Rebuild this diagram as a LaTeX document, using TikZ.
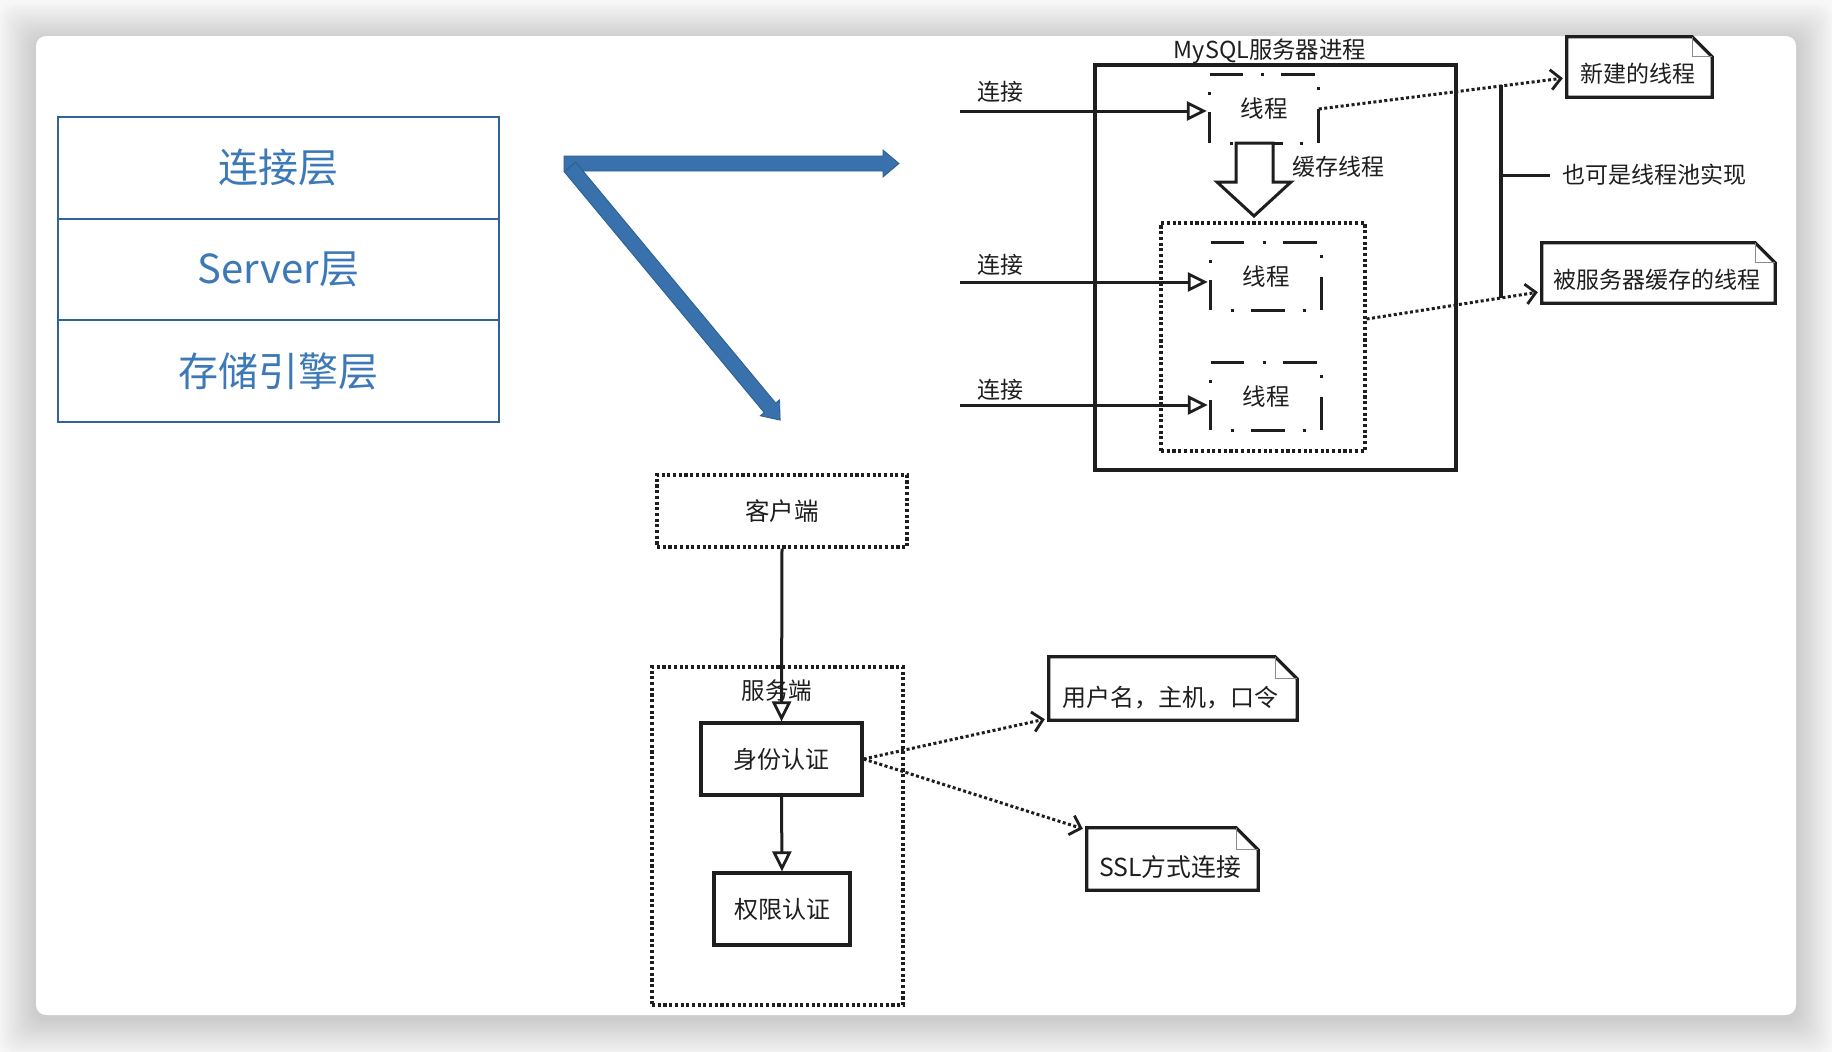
\documentclass[tikz,border=0pt]{standalone}
\usepackage{fontspec}
\newfontfamily\cjk{Noto Sans CJK SC}
\usetikzlibrary{arrows.meta,calc}
\definecolor{pagebg}{HTML}{F7F7F7}
\definecolor{layertext}{HTML}{3C79B6}
\definecolor{layerline}{HTML}{31639A}
\definecolor{bluefill}{HTML}{3871AB}
\definecolor{blueedge}{HTML}{2C5E92}
\definecolor{ink}{HTML}{1E1E1E}
\definecolor{foldgray}{HTML}{8C8C8C}

\newcommand{\thframe}[1]{%
  \draw[thdash] (#1.north west) -- ++(33,0);
  \draw[thdash] ($(#1.north west)!0.5!(#1.north east)+(-3,0)$) -- ++(3,0);
  \draw[thdash] ($(#1.north east)+(-38,0)$) -- ++(34,0);
  \draw[thdash] ($(#1.north east)+(0,12.5)$) -- ++(0,3);
  \draw[thdash] ($(#1.north east)+(0,34)$) -- (#1.south east);
  \draw[thdash] ($(#1.south west)+(20.5,0)$) -- ++(3,0);
  \draw[thdash] ($(#1.south west)!0.5!(#1.south east)+(-15,0)$) -- ++(34,0);
  \draw[thdash] ($(#1.south east)+(-18.5,0)$) -- ++(3,0);
  \draw[thdash] ($(#1.north west)+(0,17.5)$) -- ++(0,3);
  \draw[thdash] ($(#1.north west)+(0,37)$) -- (#1.south west);
}
\newcommand{\notefold}[2]{%
  \draw[noteline] (#1.north west) -- ($(#1.north east)+(-#2,0)$) -- ($(#1.north east)+(0,#2)$) -- (#1.south east) -- (#1.south west) -- cycle;
  \draw[foldgray, line width=1.3pt] ($(#1.north east)+(-#2,0)$) -- ($(#1.north east)+(-#2,#2)$) -- ($(#1.north east)+(0,#2)$);
}

\begin{document}
\begin{tikzpicture}[x=1pt,y=-1pt,
  txt/.style={inner sep=0pt, text=ink, font=\cjk\fontsize{23}{27}\selectfont},
  bigtxt/.style={inner sep=0pt, text=ink, font=\cjk\fontsize{24}{28}\selectfont},
  layer/.style={draw=layerline, line width=2.2pt, minimum width=441pt, minimum height=101.7pt, inner sep=0pt, text=layertext, font=\cjk\fontsize{40}{44}\selectfont},
  solidbox/.style={draw=ink, line width=3.2pt, inner sep=0pt, text=ink, font=\cjk\fontsize{24}{28}\selectfont},
  dotbox/.style={draw=ink, line width=3.1pt, dash pattern=on 3.1pt off 2.6pt, inner sep=0pt},
  thread/.style={inner sep=0pt, text=ink, font=\cjk\fontsize{23.5}{27}\selectfont},
  thdash/.style={draw=ink, line width=3.2pt},
  notebox/.style={inner sep=0pt},
  noteline/.style={draw=ink, line width=3.2pt, line join=miter, fill=white},
  hollow/.style={draw=ink, line width=3pt, -{Triangle[open, length=20pt, width=19pt, line width=2.8pt]}},
  dotarrow/.style={draw=ink, line width=3pt, dash pattern=on 3pt off 2.5pt, -{Straight Barb[length=10pt, width=20pt, line width=2.8pt]}},
  bluearrow/.style={fill=bluefill, draw=blueedge, line width=0.8pt, line join=miter},
]
\useasboundingbox (0,0) rectangle (1832,1052);
\fill[pagebg] (0,0) rectangle (1832,1052);
\foreach \i in {1,...,14} {
  \fill[black, opacity=0.012, rounded corners=14pt] (36-\i*2.6, 36-\i*2.6+4) rectangle (1796+\i*2.6, 1015+\i*2.6+4);
}
\fill[white, rounded corners=10pt] (36,36) rectangle (1796,1015);

% layers
\node[layer] (lay1) at (278.5,167.8) {连接层};
\node[layer] (lay2) at (278.5,269.5) {Server层};
\node[layer] (lay3) at (278.5,371.2) {存储引擎层};

% blue arrows
\filldraw[bluearrow] (564,156) -- (883,156) -- (883,150) -- (899,163.5) -- (883,177) -- (883,171) -- (564,171) -- cycle;
\begin{scope}[shift={(570,167)}, rotate=-50.3]
  \filldraw[bluearrow] (0,-7.5) -- (313,-7.5) -- (313,-12.5) -- (329,0) -- (313,12.5) -- (313,7.5) -- (0,7.5) -- cycle;
\end{scope}

% MySQL server process
\node[txt, font=\cjk\fontsize{23.4}{27}\selectfont] (mysqltitle) at (1270,51) {MySQL服务器进程};
\node[draw=ink, line width=3.2pt, minimum width=361pt, minimum height=405pt, inner sep=0pt] (mysql) at (1275.5,267.5) {};
\node[dotbox, minimum width=204pt, minimum height=228pt] (cache) at (1263,337) {};
\node[thread, minimum width=108.6pt, minimum height=68pt] (th1) at (1264.3,109) {线程};
\node[thread, minimum width=110pt, minimum height=67pt] (th2) at (1266,276.5) {线程};
\node[thread, minimum width=110pt, minimum height=67pt] (th3) at (1266,396.5) {线程};
\thframe{th1}
\thframe{th2}
\thframe{th3}

\coordinate (c1) at (960,111);
\coordinate (c2) at (960,282);
\coordinate (c3) at (960,405);
\node[txt] (l1) at (1000,92) {连接};
\node[txt] (l2) at (1000,265) {连接};
\node[txt] (l3) at (1000,390) {连接};
\draw[hollow] (c1) -- ([xshift=-3pt]c1 -| th1.west);
\draw[hollow] (c2) -- ([xshift=-3pt]c2 -| th2.west);
\draw[hollow] (c3) -- ([xshift=-3pt]c3 -| th3.west);

% cache arrow
\filldraw[fill=white, draw=ink, line width=3pt, line join=miter] (1236,143) -- (1273,143) -- (1273,182) -- (1291,182) -- (1254,216) -- (1217,182) -- (1236,182) -- cycle;
\node[txt, anchor=west] (cachelbl) at (1292,167) {缓存线程};

% notes right
\node[notebox, minimum width=145pt, minimum height=60pt] (note1) at (1639.5,67) {};
\notefold{note1}{20}
\node[txt] (note1t) at (1638,74) {新建的线程};
\node[notebox, minimum width=233pt, minimum height=60pt] (note2) at (1658.5,273) {};
\notefold{note2}{20}
\node[txt] (note2t) at (1657,280) {被服务器缓存的线程};

\draw[dotarrow] (th1.east) -- ($(note1.south west)+(-4,-19)$);
\draw[dotarrow] ($(cache.east)+(0,-18)$) -- ($(note2.south west)+(-4,-11)$);

% bracket
\coordinate (bt) at (1501,85);
\coordinate (bb) at (1501,298);
\coordinate (bm) at (1501,175);
\draw[ink, line width=3.2pt] (bt) -- (bb);
\node[txt, anchor=west] (pool) at (1562,175) {也可是线程池实现};
\draw[ink, line width=3pt] (bm) -- ([xshift=-12pt]pool.west);

% client / server
\node[dotbox, minimum width=250pt, minimum height=72pt, text=ink, font=\cjk\fontsize{24.5}{28}\selectfont] (client) at (782,511) {客户端};
\node[dotbox, minimum width=251pt, minimum height=338pt] (server) at (777.5,836) {};
\node[txt, font=\cjk\fontsize{23.5}{27}\selectfont] (serverlbl) at (777,691) {服务端};
\node[solidbox, minimum width=161pt, minimum height=72pt] (auth) at (781.5,759) {身份认证};
\node[solidbox, minimum width=136pt, minimum height=72pt] (perm) at (782,909) {权限认证};
\draw[hollow] (client.south) -- (auth.north);
\draw[hollow] (auth.south) -- (perm.north);

\node[notebox, minimum width=248pt, minimum height=63pt] (note3) at (1173,688.5) {};
\notefold{note3}{22}
\node[bigtxt] (note3t) at (1170,698) {用户名，主机，口令};
\node[notebox, minimum width=171pt, minimum height=62pt] (note4) at (1172.5,859) {};
\notefold{note4}{22}
\node[bigtxt, font=\cjk\fontsize{24.8}{28}\selectfont] (note4t) at (1170,867) {SSL方式连接};

\draw[dotarrow] (auth.east) -- ($(note3.south west)+(-4,-1)$);
\draw[dotarrow] (auth.east) -- ($(note4.north west)+(-4,1)$);
\end{tikzpicture}
\end{document}
